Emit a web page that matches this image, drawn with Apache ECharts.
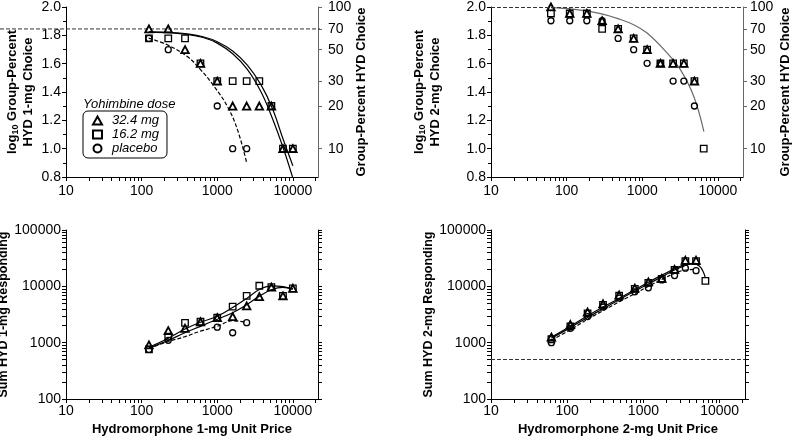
<!DOCTYPE html>
<html><head><meta charset="utf-8">
<script src="https://cdn.jsdelivr.net/npm/echarts@6/dist/echarts.min.js"></script>
<style>html,body{margin:0;padding:0;background:#fff}#c{width:795px;height:440px}</style>
</head><body><div id="c"></div>
<script>
// ---------- data ----------
const doses = ['32.4 mg', '16.2 mg', 'placebo'];
const X1 = [125, 225, 375, 600, 1000, 1600, 2450, 3600, 5200, 7400, 10000];
const X2 = [62, 110, 185, 295, 480, 770, 1160, 1740, 2560, 3550, 4900, 6500];

// top-left: group-percent HYD 1-mg choice (%)
const pctTL_324 = [70, 70, 50, 40, 30, 20, 20, 20, 20, 10, 10];
const pctTL_162 = [60, 60, 60, 40, 30, 30, 30, 30, 20, 10, 10];
const pctTL_plc = [60, 50, null, null, 20, 10, 10, null, null, null, null];
// top-right: group-percent HYD 2-mg choice (%)
const pctTR_324 = [100, 90, 90, 80, 70, 60, 50, 40, 40, 40, 30, null];
const pctTR_162 = [90, 90, 90, 70, 70, 60, 50, 40, 40, 40, 30, 10];
const pctTR_plc = [80, 80, 80, 80, 60, 50, 40, 40, 30, 30, 20, null];
// bottom-left: sum HYD 1-mg responding
const sumBL_324 = [910, 1630, 1800, 2350, 2770, 2890, 4480, 6550, 9700, 6750, 9230];
const sumBL_162 = [762, 1276, 2240, 2350, 2770, 4350, 6750, 10250, 9700, 6750, 9230];
const sumBL_plc = [760, 1100, null, null, 1880, 1500, 2260, null, null, null, null];
// bottom-right: sum HYD 2-mg responding
const sumBR_324 = [1250, 2100, 3500, 4900, 7000, 9300, 12000, 13800, 20000, 29000, 29000, null];
const sumBR_162 = [1150, 1950, 3300, 4700, 6800, 9000, 11500, 13500, 19500, 28000, 28000, 12500];
const sumBR_plc = [1000, 1800, 2900, 4300, 6200, 8000, 9400, 13000, 15500, 21000, 19000, null];

// fitted curves
const fitTL_324_x = [125, 250, 400, 650, 1000, 1600, 2500, 3800, 5400, 7400, 9900];
const fitTL_324_y = [1.823, 1.817, 1.806, 1.785, 1.745, 1.67, 1.56, 1.40, 1.21, 1.01, 0.80];
const fitTL_162_x = [125, 250, 400, 650, 1000, 1600, 2500, 3800, 5400, 7400, 10000];
const fitTL_162_y = [1.825, 1.82, 1.81, 1.79, 1.755, 1.69, 1.59, 1.45, 1.28, 1.07, 0.88];
const fitTL_plc_x = [124, 218, 403, 605, 910, 1370, 1860, 2450];
const fitTL_plc_y = [1.78, 1.733, 1.65, 1.556, 1.44, 1.296, 1.131, 0.90];
const fitTR_x = [62, 120, 190, 300, 465, 770, 1160, 2140, 3210, 4820, 6540];
const fitTR_y = [1.995, 1.985, 1.97, 1.95, 1.92, 1.875, 1.816, 1.674, 1.556, 1.367, 1.12];
const fitBL_162_x = [125, 225, 375, 600, 1000, 1600, 2450, 3600, 5200, 7400, 10000];
const fitBL_162_y = [830, 1200, 1750, 2300, 2950, 4200, 6100, 8800, 10200, 9900, 8900];
const fitBL_324_x = [125, 225, 375, 600, 1000, 1600, 2450, 3600, 5200, 7400, 10000];
const fitBL_324_y = [800, 1100, 1500, 1950, 2600, 3400, 4700, 6700, 8700, 9600, 9000];
const fitBL_plc_x = [125, 225, 375, 600, 1000, 1600, 2450];
const fitBL_plc_y = [790, 1050, 1280, 1600, 1950, 2450, 2280];
const fitBR_162_x = [62, 110, 185, 295, 480, 770, 1160, 1740, 2560, 3550, 4500, 5400, 6100, 6500];
const fitBR_162_y = [1200, 1850, 2800, 4000, 5800, 8200, 11000, 14800, 19500, 23500, 25000, 23000, 18000, 14000];
const fitBR_324_x = [62, 110, 185, 295, 480, 770, 1160, 1740, 2560, 3550, 4900];
const fitBR_324_y = [1250, 1950, 3000, 4300, 6100, 8700, 11800, 15800, 20500, 24500, 25500];
const fitBR_plc_x = [62, 110, 185, 295, 480, 770, 1160, 1740, 2560, 3550, 4900];
const fitBR_plc_y = [1100, 1700, 2600, 3700, 5300, 7400, 10000, 13300, 17000, 19500, 20000];

// reference lines
const refTL_pct = 70;
const refTR_pct = 100;
const refBR_sum = 500;

// tick labels
const xLabels = [10, 100, 1000, 10000];
const pctLabels = [10, 20, 30, 50, 70, 100];
const sumLabels = [100, 1000, 10000, 100000];

// ---------- helpers ----------
const FONT = '"Liberation Sans", Arial, sans-serif';
const minorLog = (a, b) => { const r = []; for (let d = a; d < b; d *= 10) for (let k = 1; k < 10; k++) r.push(d * k); r.push(b); return r; };
const XMAX = 21500;
const xTicks = minorLog(10, 10000).concat([20000]);
const sumTicks = minorLog(100, 100000);

function pairs(xs, ys, f) {
  const out = [];
  xs.forEach((x, i) => { if (ys[i] != null) out.push([x, f ? f(ys[i]) : ys[i]]); });
  return out;
}
const lg = Math.log10;

function xAxis(grid, name, margin) {
  return {
    type: 'log', gridIndex: grid, min: 10, max: XMAX,
    axisLine: { show: true, lineStyle: { color: '#000', width: 1 } },
    axisTick: { show: true, length: 4, customValues: xTicks, lineStyle: { color: '#000' } },
    axisLabel: { customValues: xLabels, color: '#000', fontSize: 14, fontFamily: FONT, margin: margin,
      formatter: v => String(Math.round(v)) },
    splitLine: { show: false },
    name: name, nameLocation: 'middle', nameGap: 24,
    nameTextStyle: { color: '#000', fontSize: 13, fontWeight: 'bold', fontFamily: FONT }
  };
}
const richName = {
  b: { fontSize: 13, fontWeight: 'bold', fontFamily: FONT, color: '#000', lineHeight: 16 },
  s: { fontSize: 9, fontWeight: 'bold', fontFamily: FONT, color: '#000', lineHeight: 16, padding: [7, 0, 0, 0] }
};
function pctLeft(grid, line2, gap) {
  return {
    type: 'value', gridIndex: grid, min: 0.8, max: 2.0, interval: 0.2, position: 'left',
    axisLine: { show: true, lineStyle: { color: '#000' } },
    axisTick: { show: true, length: 4, lineStyle: { color: '#000' } },
    minorTick: { show: true, splitNumber: 2, length: 3, lineStyle: { color: '#000' } },
    axisLabel: { color: '#000', fontSize: 14, fontFamily: FONT, margin: 5, formatter: v => v.toFixed(1) },
    splitLine: { show: false },
    name: '{b|log}{s|10}{b| Group-Percent}\n{b|' + line2 + '}', nameLocation: 'middle', nameGap: gap, nameRotate: 90,
    nameTextStyle: { rich: richName, align: 'center' }
  };
}
function pctRight(grid, gap, margin) {
  return {
    type: 'value', gridIndex: grid, min: 0.8, max: 2.0, position: 'right',
    axisLine: { show: true, lineStyle: { color: '#666' } },
    axisTick: { show: true, length: 4, customValues: pctLabels.map(lg), lineStyle: { color: '#666' } },
    axisLabel: { customValues: pctLabels.map(lg), color: '#000', fontSize: 14, fontFamily: FONT, margin: margin,
      formatter: v => String(Math.round(Math.pow(10, v))) },
    splitLine: { show: false },
    name: 'Group-Percent HYD Choice', nameLocation: 'middle', nameGap: gap, nameRotate: 90,
    nameTextStyle: { color: '#000', fontSize: 13, fontWeight: 'bold', fontFamily: FONT }
  };
}
function sumAxis(grid, pos, name, gap) {
  return {
    type: 'log', gridIndex: grid, min: 100, max: 100000, position: pos,
    axisLine: { show: true, lineStyle: { color: '#000' } },
    axisTick: { show: true, length: 4, customValues: sumTicks, lineStyle: { color: '#000' } },
    axisLabel: { show: pos === 'left', customValues: sumLabels, color: '#000', fontSize: 14, fontFamily: FONT, margin: 5,
      formatter: v => String(Math.round(v)) },
    splitLine: { show: false },
    name: name, nameLocation: 'middle', nameGap: gap, nameRotate: 90,
    nameTextStyle: { color: '#000', fontSize: 12.5, fontWeight: 'bold', fontFamily: FONT }
  };
}
const mk = {
  '32.4 mg': { symbol: 'triangle', symbolSize: [7.5, 7], bw: 1.8 },
  '16.2 mg': { symbol: 'rect', symbolSize: 6.5, bw: 1.3 },
  'placebo': { symbol: 'circle', symbolSize: 6, bw: 1.3 }
};
function scatter(name, xi, yi, data) {
  const m = mk[name];
  return { type: 'scatter', name: name, xAxisIndex: xi, yAxisIndex: yi, data: data,
    symbol: m.symbol, symbolSize: m.symbolSize, z: 3,
    itemStyle: { color: 'rgba(255,255,255,0)', borderColor: '#000', borderWidth: m.bw, opacity: 1 } };
}
function curve(xi, yi, data, dashed, color) {
  return { type: 'line', xAxisIndex: xi, yAxisIndex: yi, data: data, showSymbol: false, smooth: 0.4,
    silent: true, z: 2,
    lineStyle: { color: color || '#000', width: 1.2, type: dashed ? [4, 2] : 'solid' } };
}
function refLine(xi, yi, val) {
  return { type: 'line', xAxisIndex: xi, yAxisIndex: yi, data: [], silent: true,
    markLine: { silent: true, symbol: 'none', label: { show: false },
      lineStyle: { color: '#333', width: 1, type: [4, 2] }, data: [{ yAxis: val }] } };
}

const option = {
  animation: false,
  backgroundColor: '#fff',
  grid: [
    { left: 66, top: 7, width: 252, height: 170, outerBoundsMode: 'none' },
    { left: 491, top: 7, width: 252, height: 170, outerBoundsMode: 'none' },
    { left: 66, top: 230, width: 252, height: 169, outerBoundsMode: 'none' },
    { left: 491, top: 230, width: 254, height: 169, outerBoundsMode: 'none' },
    { left: 0, top: 7, width: 320, height: 170, outerBoundsMode: 'none' }
  ],
  xAxis: [
    xAxis(0, '', 7.5), xAxis(1, '', 7.5),
    xAxis(2, 'Hydromorphone 1-mg Unit Price', 5.5), xAxis(3, 'Hydromorphone 2-mg Unit Price', 5.5),
    { type: 'value', gridIndex: 4, min: 0, max: 1, show: false }
  ],
  yAxis: [
    pctLeft(0, 'HYD 1-mg Choice', 30), pctRight(0, 36, 10),
    pctLeft(1, 'HYD 2-mg Choice', 48), pctRight(1, 36, 7),
    sumAxis(2, 'left', 'Sum HYD 1-mg Responding', 52), sumAxis(2, 'right', '', 0),
    sumAxis(3, 'left', 'Sum HYD 2-mg Responding', 50), sumAxis(3, 'right', '', 0),
    { type: 'value', gridIndex: 4, min: 0.8, max: 2.0, show: false }
  ],
  legend: {
    data: doses, orient: 'vertical', left: 83, top: 111,
    borderColor: '#000', borderWidth: 1, borderRadius: 5, padding: [3, 8, 3, 9],
    itemGap: 1, itemWidth: 9, itemHeight: 8, selectedMode: false,
    textStyle: { color: '#000', fontSize: 13, fontStyle: 'italic', fontFamily: FONT, padding: [0, 0, 0, 5] }
  },
  graphic: [
    { type: 'text', left: 83, top: 98,
      style: { text: 'Yohimbine dose', fill: '#000', fontSize: 13, fontStyle: 'italic', fontFamily: FONT } }
  ],
  series: [
    // TL
    { type: 'line', xAxisIndex: 4, yAxisIndex: 8, data: [[0, lg(refTL_pct)], [1, lg(refTL_pct)]], showSymbol: false,
      silent: true, lineStyle: { color: '#333', width: 1, type: [4, 2] } },
    curve(0, 0, pairs(fitTL_324_x, fitTL_324_y)),
    curve(0, 0, pairs(fitTL_162_x, fitTL_162_y)),
    curve(0, 0, pairs(fitTL_plc_x, fitTL_plc_y), true),
    scatter('placebo', 0, 0, pairs(X1, pctTL_plc, lg)),
    scatter('16.2 mg', 0, 0, pairs(X1, pctTL_162, lg)),
    scatter('32.4 mg', 0, 0, pairs(X1, pctTL_324, lg)),
    // TR
    refLine(1, 2, lg(refTR_pct)),
    curve(1, 2, pairs(fitTR_x, fitTR_y), false, '#6a6a6a'),
    scatter('placebo', 1, 2, pairs(X2, pctTR_plc, lg)),
    scatter('16.2 mg', 1, 2, pairs(X2, pctTR_162, lg)),
    scatter('32.4 mg', 1, 2, pairs(X2, pctTR_324, lg)),
    // BL
    curve(2, 4, pairs(fitBL_162_x, fitBL_162_y)),
    curve(2, 4, pairs(fitBL_324_x, fitBL_324_y)),
    curve(2, 4, pairs(fitBL_plc_x, fitBL_plc_y), true),
    scatter('placebo', 2, 4, pairs(X1, sumBL_plc)),
    scatter('16.2 mg', 2, 4, pairs(X1, sumBL_162)),
    scatter('32.4 mg', 2, 4, pairs(X1, sumBL_324)),
    // BR
    refLine(3, 6, refBR_sum),
    curve(3, 6, pairs(fitBR_162_x, fitBR_162_y)),
    curve(3, 6, pairs(fitBR_324_x, fitBR_324_y)),
    curve(3, 6, pairs(fitBR_plc_x, fitBR_plc_y), true),
    scatter('placebo', 3, 6, pairs(X2, sumBR_plc)),
    scatter('16.2 mg', 3, 6, pairs(X2, sumBR_162)),
    scatter('32.4 mg', 3, 6, pairs(X2, sumBR_324))
  ]
};
const chart = echarts.init(document.getElementById('c'), null, { renderer: 'canvas' });
chart.setOption(option);
</script></body></html>
